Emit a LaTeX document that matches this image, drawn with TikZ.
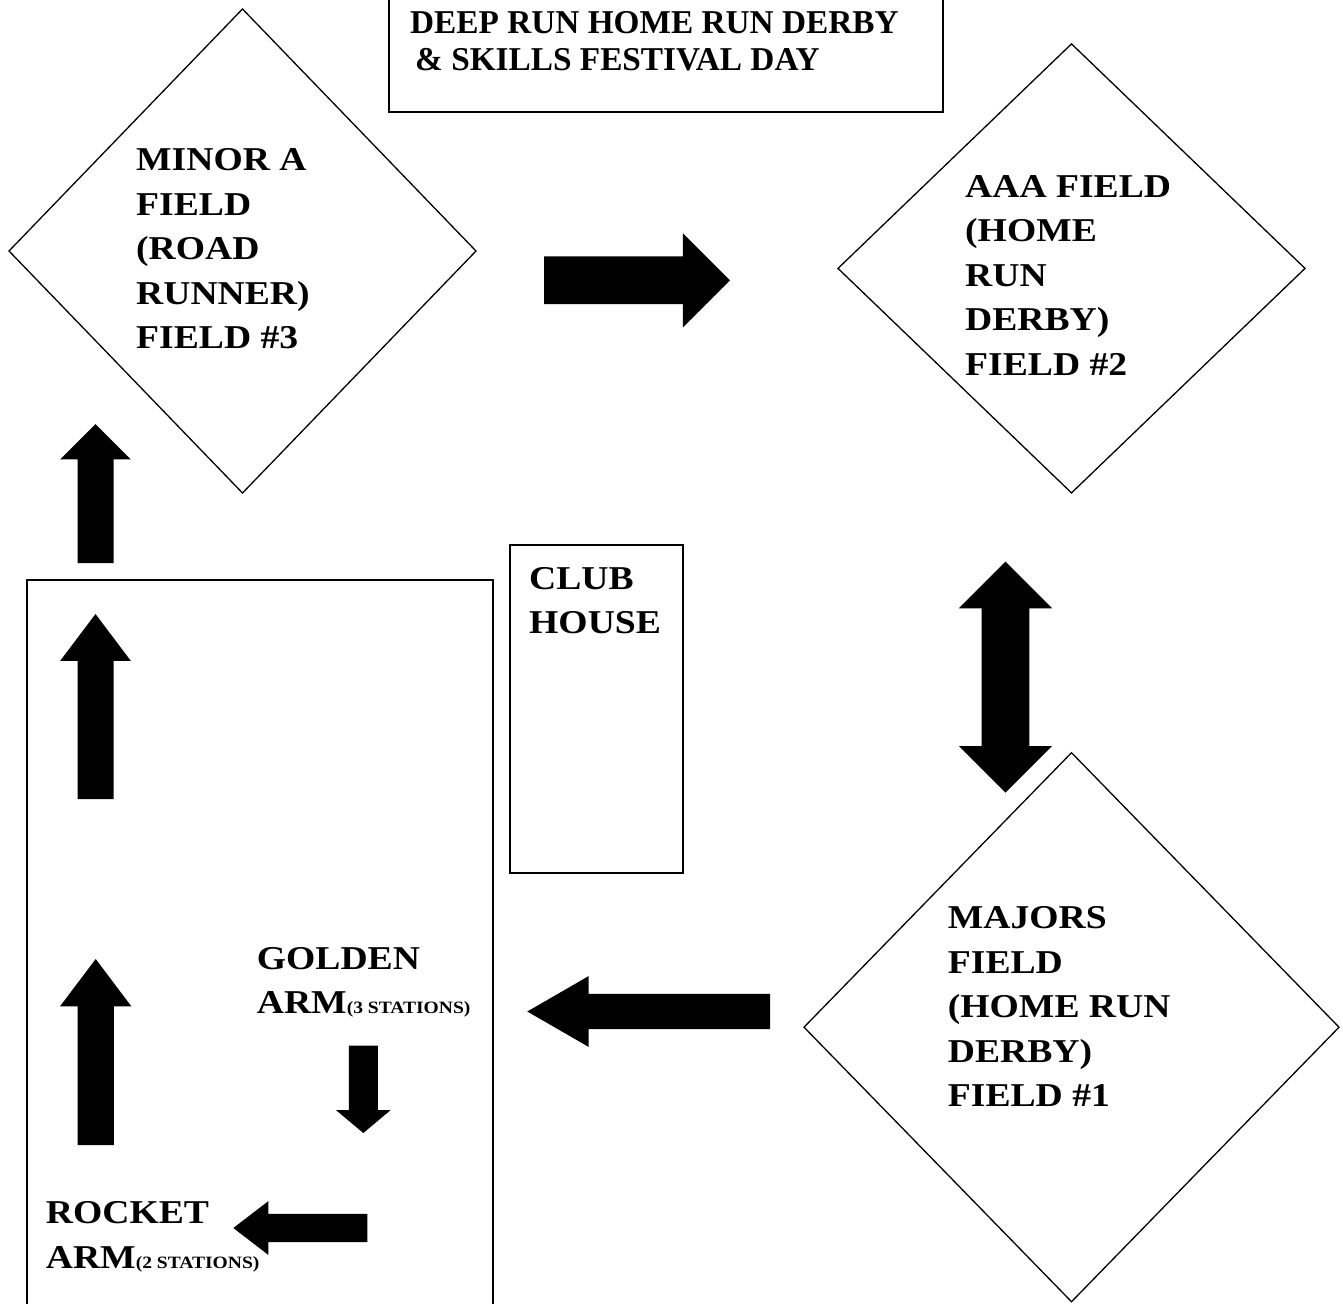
\documentclass[tikz,border=0pt]{standalone}
\usepackage{fontspec}
\setmainfont{Liberation Serif}
\newfontfamily\fieldfont{Liberation Serif}[FakeStretch=1.13]
\usetikzlibrary{shapes.geometric,shapes.arrows}

\begin{document}
\begin{tikzpicture}[%
        x=1pt, y=-1pt,
        field/.style ={diamond, draw, line width=1.3pt, inner sep=0pt, outer sep=0pt},
        box/.style={rectangle, draw, line width=2pt, inner sep=0pt, outer sep=0pt, anchor=north west},
        titletext/.style={anchor=north west, inner sep=0pt, align=left, font=\bfseries\fontsize{33.3}{37.5}\selectfont},
        fieldtext/.style={anchor=north west, inner sep=0pt, align=left, font=\fieldfont\bfseries\fontsize{33.3}{44.5}\selectfont},
        blk/.style={single arrow, fill=black, outer sep=0pt, single arrow head indent=0pt, anchor=tail},
        dblk/.style={double arrow, fill=black, outer sep=0pt, double arrow head indent=0pt}
        ]
        \useasboundingbox (0,0) rectangle (1343,1303);
        \node[box, minimum width=554, minimum height=117] (titlebox) at (389,-5) {};
        \node[titletext] (title) at (410,11) {DEEP RUN HOME RUN DERBY\\\hspace*{5pt}\& SKILLS FESTIVAL DAY};
        \node[field, minimum width=467, minimum height=484] (minor) at (242.5,251) {};
        \node[field, minimum width=467, minimum height=449] (aaa) at (1071.5,268.4) {};
        \node[field, minimum width=535, minimum height=549] (majors) at (1071.5,1027.2) {};
        \node[box, minimum width=173, minimum height=328] (club) at (510,545) {};
        \node[box, minimum width=466, minimum height=740] (stations) at (27,580) {};
        \node[fieldtext] (minortxt) at (136,148.3) {MINOR A\\FIELD\\(ROAD\\RUNNER)\\FIELD \#3};
        \node[fieldtext] (aaatxt) at (965,175) {AAA FIELD\\(HOME\\RUN\\DERBY)\\FIELD \#2};
        \node[fieldtext] (majorstxt) at (947.7,906.7) {MAJORS\\FIELD\\(HOME RUN\\DERBY)\\FIELD \#1};
        \node[fieldtext] (clubtxt) at (529,567) {CLUB\\HOUSE};
        \node[fieldtext] (golden) at (256.7,947) {GOLDEN\\ARM{\fontsize{17.3}{20}\selectfont(3 STATIONS)}};
        \node[fieldtext] (rocket) at (45.7,1201.7) {ROCKET\\ARM{\fontsize{17.3}{20}\selectfont(2 STATIONS)}};
        \node[blk, inner sep=23.65, single arrow head extend=23.35, single arrow tip angle=90, minimum height=186] (toaaa) at (544,280.3) {};
        \node[dblk, inner sep=23.65, double arrow head extend=22.7, double arrow tip angle=90, minimum height=231, shape border rotate=90] (aaamajors) at (1005.5,677.2) {};
        \node[blk, inner sep=17.5, single arrow head extend=17.65, single arrow tip angle=60, minimum height=242.7, shape border rotate=180] (togolden) at (770,1011.5) {};
        \node[blk, inner sep=14.35, single arrow head extend=12.65, single arrow tip angle=100, minimum height=87.3, shape border rotate=270] (goldendown) at (363.3,1045.7) {};
        \node[blk, inner sep=13.85, single arrow head extend=12.8, single arrow tip angle=75, minimum height=134, shape border rotate=180] (torocket) at (367.3,1228) {};
        \node[blk, inner sep=17.9, single arrow head extend=17.5, single arrow tip angle=74, minimum height=186, shape border rotate=90] (uplow) at (95.7,1145) {};
        \node[blk, inner sep=17.8, single arrow head extend=17.35, single arrow tip angle=74, minimum height=185, shape border rotate=90] (upmid) at (95.5,799) {};
        \node[blk, inner sep=17.8, single arrow head extend=17.35, single arrow tip angle=90, minimum height=139, shape border rotate=90] (tominor) at (95.5,563) {};
    \end{tikzpicture}
\end{document}
